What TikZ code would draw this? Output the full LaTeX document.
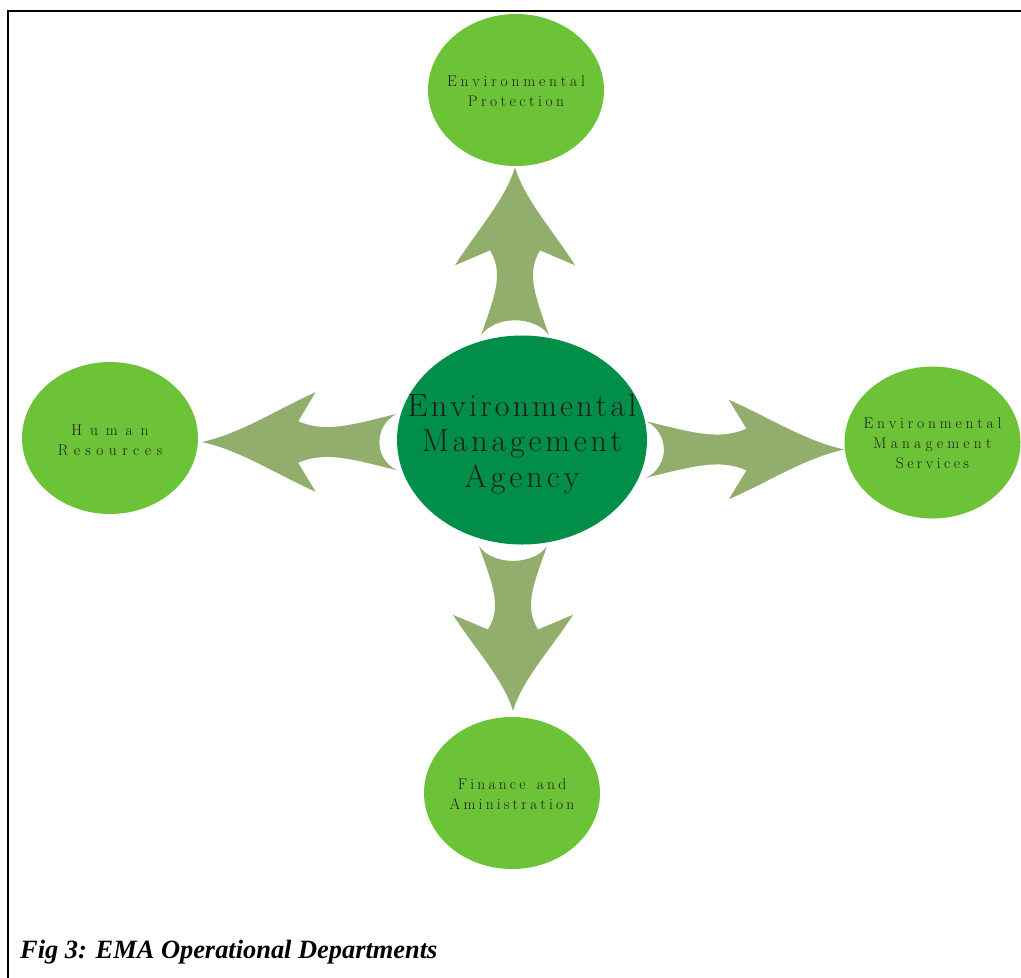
\documentclass[tikz,border=0pt]{standalone}
\usepackage{fontspec}
\newfontfamily\capfont{Liberation Serif}
\usetikzlibrary{shapes.geometric,calc,backgrounds}

\definecolor{emagreen}{RGB}{0,142,72}
\definecolor{deptgreen}{RGB}{108,195,55}
\definecolor{arrowgreen}{RGB}{146,174,108}
\definecolor{labelgray}{RGB}{30,30,30}

\tikzset{
  dept/.style={ellipse, fill=deptgreen, minimum width=176pt, minimum height=152pt, inner sep=0pt},
  hub/.style={ellipse, fill=emagreen, minimum width=250pt, minimum height=209pt, inner sep=0pt},
  deptlabel/.style={align=center, inner sep=0pt, text=labelgray, font={\fontsize{15.5}{20}\selectfont}},
  hublabel/.style={align=center, inner sep=0pt, text=labelgray, font={\fontsize{32}{35.5}\selectfont}},
  blockarrow/.style={fill=arrowgreen}
}

% tracked text: \trk{<gap in pt>}{<letters>}, a word space written as "\ "
\newcommand\trk[2]{\def\trkamount{#1}\trkloop#2\relax\unkern}
\def\trkloop#1{\ifx#1\relax\else#1\kern\trkamount pt\relax\expandafter\trkloop\fi}

% outline of one curved block arrow: base at the origin, pointing along local +x
\newcommand{\arrowoutline}{%
  (0,34) .. controls (20,20) and (20,-20) .. (0,-34)
  .. controls (40,-20) and (62,-11) .. (85,-25)
  -- (70,-60)
  .. controls (105,-38) and (135,-10) .. (168,0)
  .. controls (135,10) and (105,38) .. (70,60)
  -- (85,25)
  .. controls (62,11) and (40,20) .. (0,34) -- cycle}

\begin{document}
\begin{tikzpicture}[x=1pt,y=-1pt]
  \useasboundingbox (0,0) rectangle (1021,978);

  % central agency
  \node[hub] (ema) at (522,440) {};
  \node[hublabel] (emalabel) at ($(ema)+(0,4)$)
    {\trk{3.2}{Environmental}\\\trk{3.8}{Management}\\\trk{4}{Agency}};

  \begin{scope}[on background layer]
    \fill[white] (0,0) rectangle (1021,978);
    % block arrows radiating from the agency, tucked under its ellipse
    \begin{scope}[shift={($(ema.north)+(-7,0)$)}, rotate=90]
      \fill[blockarrow] \arrowoutline;
    \end{scope}
    \begin{scope}[shift={($(ema.south)+(-9,1.5)$)}, rotate=-90, xscale=0.98]
      \fill[blockarrow] \arrowoutline;
    \end{scope}
    \begin{scope}[shift={($(ema.east)+(-1,9.5)$)}, xscale=1.18, yscale=0.83]
      \fill[blockarrow] \arrowoutline;
    \end{scope}
    \begin{scope}[shift={($(ema.west)+(0,2)$)}, rotate=180, xscale=1.16, yscale=0.83]
      \fill[blockarrow] \arrowoutline;
    \end{scope}
  \end{scope}

  % frame
  \draw[line width=2pt] (8,978) -- (8,11) -- (1021,11);

  % departments
  \node[dept] (prot) at (516,90) {};
  \node[deptlabel] (protlabel) at ($(prot)+(0,1)$)
    {\trk{3.8}{Environmental}\\\trk{3.5}{Protection}};

  \node[dept] (hr) at (110,438) {};
  \node[deptlabel] (hrlabel) at ($(hr)+(0,2)$)
    {\trk{7.9}{Human}\\\trk{5.4}{Resources}};

  \node[dept] (ems) at (932.5,442.5) {};
  \node[deptlabel] (emslabel) at ($(ems)+(0,1)$)
    {\trk{3.8}{Environmental}\\\trk{4.2}{Management}\\\trk{3.4}{Services}};

  \node[dept] (fin) at (512,793) {};
  \node[deptlabel] (finlabel) at ($(fin)+(0,1)$)
    {\trk{3.2}{Finance\ and}\\\trk{3.2}{Aministration}};

  % caption
  \node[anchor=base west, inner sep=0pt,
        font={\capfont\fontsize{26.4}{30}\selectfont\bfseries\itshape}]
    (cap) at (20,958) {Fig 3: EMA Operational Departments};
\end{tikzpicture}
\end{document}
